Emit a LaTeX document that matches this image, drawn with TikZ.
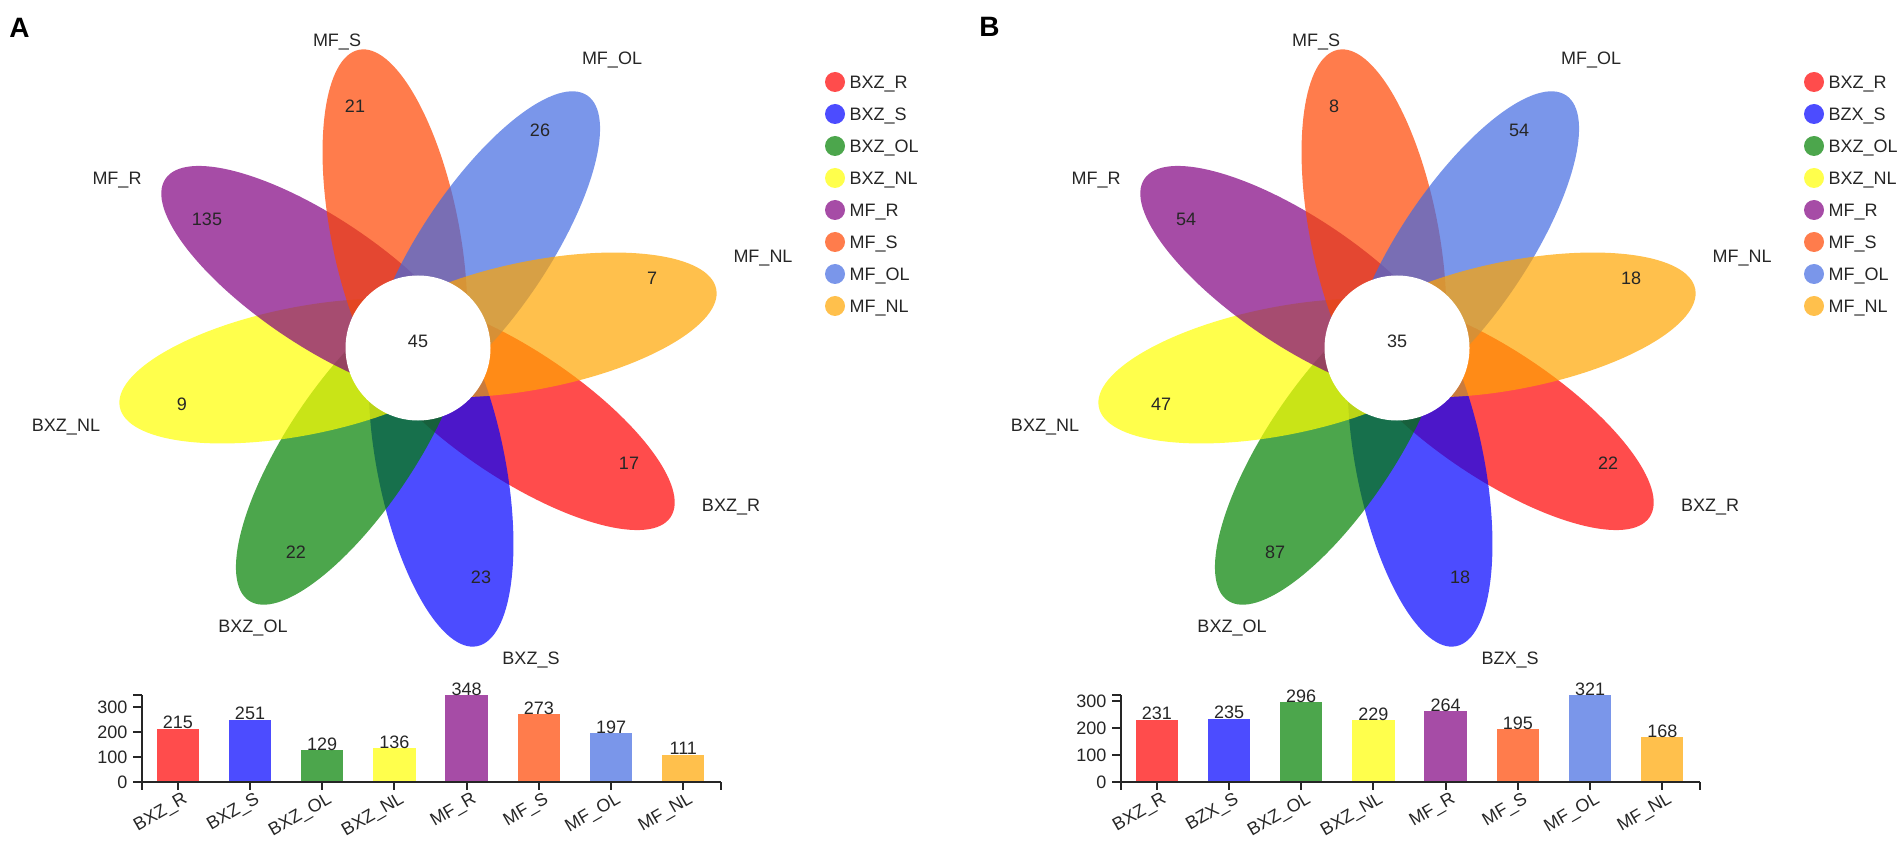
\documentclass[tikz,border=0pt]{standalone}
\usepackage{fontspec}
\setmainfont{Liberation Sans}
\definecolor{cR}{RGB}{255,0,0}
\definecolor{cS}{RGB}{0,0,255}
\definecolor{cOL}{RGB}{0,128,0}
\definecolor{cNL}{RGB}{255,255,0}
\definecolor{mR}{RGB}{128,0,128}
\definecolor{mS}{RGB}{255,69,0}
\definecolor{mOL}{RGB}{65,105,225}
\definecolor{mNL}{RGB}{255,165,0}
\definecolor{txt}{RGB}{38,38,38}
\newcommand\sname{BXZ\_S}
\newcommand\drawflower{%
  \begin{scope}[shift={(418,348)}]
    \foreach \a/\c in {-33.8/cR,-78.8/cS,-123.8/cOL,-168.8/cNL,146.2/mR,101.2/mS,56.2/mOL,11.2/mNL}
      \fill[petal=\c, rotate=\a] (119,0) ellipse [x radius=185pt, y radius=64pt];
    \fill[white] (0,0) circle [radius=72.5pt];
  \end{scope}
}
\newcommand\petallabels{%
  \node[lab] (tmS) at (337,40) {MF\_S};
  \node[lab] (tmOL) at (612,58) {MF\_OL};
  \node[lab] (tmR) at (117,178) {MF\_R};
  \node[lab] (tmNL) at (763,256) {MF\_NL};
  \node[lab] (tNL) at (66,425) {BXZ\_NL};
  \node[lab] (tR) at (731,505) {BXZ\_R};
  \node[lab] (tOL) at (253,626) {BXZ\_OL};
  \node[lab] (tS) at (531,658) {\sname};
}
\newcommand\petalnums[9]{%
  \node[lab] (core) at (418,341) {#1};
  \node[lab] (nR) at (629,463) {#2};
  \node[lab] (nS) at (481,577) {#3};
  \node[lab] (nOL) at (296,552) {#4};
  \node[lab] (nNL) at (182,404) {#5};
  \node[lab] (nmR) at (207,219) {#6};
  \node[lab] (nmS) at (355,106) {#7};
  \node[lab] (nmOL) at (540,130) {#8};
  \node[lab] (nmNL) at (652,278) {#9};
}
\newcommand\drawlegend{%
  \foreach \i/\c/\n in {0/cR/BXZ\_R,1/cS/\sname,2/cOL/BXZ\_OL,3/cNL/BXZ\_NL,4/mR/MF\_R,5/mS/MF\_S,6/mOL/MF\_OL,7/mNL/MF\_NL}{
    \node[legdot=\c] (d\i) at (835,82+32*\i) {};
    \node[leg] (l\i) at (849.5,82+32*\i) {\n};
  }
}
\newcommand\drawbars[9]{%
  \foreach \i/\v/\c/\n in {1/#2/cR/BXZ\_R,2/#3/cS/\sname,3/#4/cOL/BXZ\_OL,4/#5/cNL/BXZ\_NL,5/#6/mR/MF\_R,6/#7/mS/MF\_S,7/#8/mOL/MF\_OL,8/#9/mNL/MF\_NL}{
    \pgfmathsetmacro\bx{177.8+72.21*(\i-1)}
    \pgfmathsetmacro\by{782.3-\v*#1}
    \fill[barfill=\c] (\bx-21.2,782.3) rectangle (\bx+21.2,\by);
    \node[bval] (v\i) at (\bx,\by+0.5) {\v};
    \node[xlab] (x\i) at (\bx+4,791) {\n};
    \draw[axisline] (\bx,782.3) -- (\bx,790);
  }
  \draw[axisline] (141.7,695.3) -- (141.7,782.3) -- (720.7,782.3);
  \draw[axisline] (141.7,782.3) -- (141.7,790);
  \draw[axisline] (720.7,782.3) -- (720.7,790);
  \draw[axisline] (133.4,695.3) -- (141.7,695.3);
  \foreach \t in {0,100,200,300}{
    \draw[axisline] (133.4,782.3-\t*#1) -- (141.7,782.3-\t*#1);
    \node[ylab] (y\t) at (127.5,782.3-\t*#1) {\t};
  }
}
\begin{document}
\begin{tikzpicture}[x=1pt,y=-1pt,
  petal/.style={fill=#1, fill opacity=0.7},
  barfill/.style={fill=#1, fill opacity=0.7},
  legdot/.style={circle, fill=#1, fill opacity=0.7, minimum size=20pt, inner sep=0pt},
  lab/.style={font=\fontsize{18}{18}\selectfont, text=txt, inner sep=0pt, text height=12.9pt, text depth=0pt},
  leg/.style={lab, anchor=west},
  xlab/.style={lab, anchor=north east, rotate=30},
  ylab/.style={lab, anchor=east},
  bval/.style={lab, anchor=south},
  paneltitle/.style={font=\fontsize{28}{28}\selectfont\bfseries, inner sep=0pt, text height=20pt, text depth=0pt},
  axisline/.style={line width=2pt, draw=txt}
]
\useasboundingbox (0,0) rectangle (1904,842);
\node[paneltitle] (A) at (19.4,28) {A};
\node[paneltitle] (B) at (989.5,27) {B};
\begin{scope}[name prefix=A-]
  \drawflower
  \petallabels
  \petalnums{45}{17}{23}{22}{9}{135}{21}{26}{7}
  \drawlegend
  \drawbars{0.25}{215}{251}{129}{136}{348}{273}{197}{111}
\end{scope}
\renewcommand\sname{BZX\_S}
\begin{scope}[xshift=979pt, name prefix=B-]
  \drawflower
  \petallabels
  \petalnums{35}{22}{18}{87}{47}{54}{8}{54}{18}
  \drawlegend
  \drawbars{0.27103}{231}{235}{296}{229}{264}{195}{321}{168}
\end{scope}
\end{tikzpicture}
\end{document}
